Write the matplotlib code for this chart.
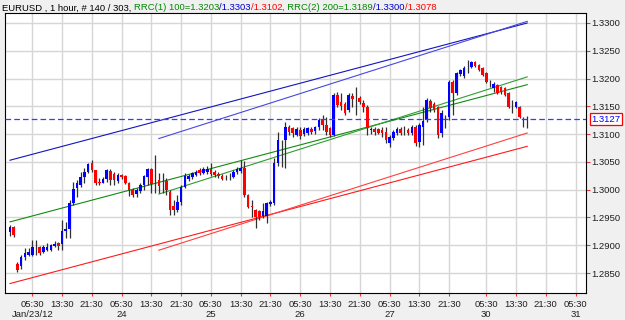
import matplotlib
matplotlib.use('Agg')
import matplotlib.pyplot as plt
import numpy as np
from matplotlib.transforms import blended_transform_factory

plt.rcParams['font.family'] = ['Liberation Sans', 'DejaVu Sans']

# ---------------- data ----------------
opens = [1.2924,1.2933,1.2866,1.2863,1.2879,1.2882,1.2882,1.2895,1.2897,1.2888,
 1.2891,1.2891,1.2899,1.2904,1.2902,1.2926,1.2929,1.2976,1.3003,1.3008,
 1.3023,1.3032,1.3048,1.3035,1.3014,1.3012,1.3019,1.3034,1.3028,1.3016,
 1.3026,1.3025,1.3012,1.2999,1.2992,1.2998,1.3008,1.3023,1.3037,1.3010,
 1.3017,1.3012,1.3016,1.2996,1.2971,1.2963,1.2978,1.3005,1.3019,1.3023,
 1.3026,1.3035,1.3030,1.3032,1.3037,1.3032,1.3028,1.3025,1.3021,1.3023,
 1.3023,1.3032,1.3034,1.3039,1.2990,1.2971,1.2963,1.2962,1.2953,1.2953,
 1.2974,1.2976,1.3048,1.3075,1.3089,1.3113,1.3111,1.3098,1.3107,1.3100,
 1.3102,1.3109,1.3106,1.3113,1.3127,1.3116,1.3111,1.3098,1.3170,1.3158,
 1.3154,1.3143,1.3169,1.3161,1.3165,1.3156,1.3149,1.3107,1.3109,1.3109,
 1.3107,1.3104,1.3084,1.3093,1.3102,1.3109,1.3106,1.3107,1.3102,1.3113,
 1.3086,1.3113,1.3125,1.3160,1.3154,1.3149,1.3102,1.3129,1.3131,1.3194,
 1.3174,1.3208,1.3205,1.3223,1.3221,1.3230,1.3224,1.3219,1.3210,1.3194,
 1.3183,1.3188,1.3185,1.3183,1.3174,1.3158,1.3149,1.3149,1.3131,1.3127]
highs = [1.2936,1.2935,1.2870,1.2882,1.2895,1.2895,1.2909,1.2909,1.2899,1.2900,
 1.2904,1.2902,1.2908,1.2906,1.2945,1.2942,1.2981,1.3014,1.3017,1.3032,
 1.3039,1.3048,1.3053,1.3035,1.3021,1.3023,1.3037,1.3037,1.3032,1.3030,
 1.3028,1.3026,1.3014,1.3003,1.3003,1.3012,1.3026,1.3039,1.3039,1.3062,
 1.3030,1.3030,1.3021,1.2999,1.2981,1.2990,1.3008,1.3030,1.3028,1.3032,
 1.3035,1.3039,1.3041,1.3043,1.3048,1.3035,1.3032,1.3028,1.3026,1.3030,
 1.3035,1.3041,1.3053,1.3052,1.2992,1.2981,1.2965,1.2963,1.2976,1.2978,
 1.2981,1.3057,1.3104,1.3089,1.3122,1.3116,1.3113,1.3113,1.3113,1.3113,
 1.3113,1.3113,1.3115,1.3129,1.3134,1.3131,1.3113,1.3174,1.3176,1.3174,
 1.3158,1.3174,1.3174,1.3185,1.3169,1.3161,1.3152,1.3113,1.3113,1.3111,
 1.3113,1.3113,1.3098,1.3107,1.3113,1.3113,1.3115,1.3111,1.3116,1.3116,
 1.3120,1.3149,1.3165,1.3163,1.3158,1.3151,1.3143,1.3134,1.3197,1.3197,
 1.3212,1.3217,1.3223,1.3233,1.3232,1.3232,1.3226,1.3221,1.3212,1.3197,
 1.3194,1.3190,1.3187,1.3185,1.3176,1.3161,1.3160,1.3151,1.3131,1.3133]
lows = [1.2917,1.2915,1.2852,1.2857,1.2873,1.2881,1.2881,1.2882,1.2882,1.2886,
 1.2890,1.2890,1.2897,1.2891,1.2891,1.2913,1.2913,1.2972,1.2987,1.3005,
 1.3012,1.3030,1.3032,1.3008,1.3008,1.3012,1.3014,1.3008,1.3008,1.3012,
 1.3019,1.3010,1.2989,1.2987,1.2987,1.2994,1.2999,1.3008,1.2994,1.2994,
 1.2994,1.2994,1.2990,1.2954,1.2954,1.2960,1.2972,1.3003,1.3016,1.3019,
 1.3025,1.3026,1.3028,1.3028,1.3025,1.3023,1.3021,1.3017,1.3017,1.3017,
 1.3021,1.3028,1.3030,1.2987,1.2967,1.2951,1.2931,1.2945,1.2949,1.2940,
 1.2971,1.2972,1.3043,1.3041,1.3039,1.3098,1.3095,1.3097,1.3091,1.3097,
 1.3098,1.3100,1.3100,1.3107,1.3107,1.3098,1.3095,1.3097,1.3149,1.3143,
 1.3134,1.3140,1.3149,1.3134,1.3154,1.3140,1.3098,1.3100,1.3098,1.3100,
 1.3095,1.3084,1.3077,1.3089,1.3098,1.3098,1.3098,1.3098,1.3098,1.3079,
 1.3077,1.3080,1.3122,1.3140,1.3140,1.3093,1.3095,1.3111,1.3125,1.3134,
 1.3170,1.3205,1.3201,1.3210,1.3219,1.3221,1.3214,1.3205,1.3192,1.3185,
 1.3176,1.3172,1.3172,1.3169,1.3147,1.3138,1.3147,1.3129,1.3113,1.3111]
closes = [1.2933,1.2918,1.2855,1.2879,1.2886,1.2888,1.2897,1.2895,1.2886,1.2897,
 1.2897,1.2900,1.2902,1.2899,1.2926,1.2929,1.2976,1.3001,1.3012,1.3023,
 1.3032,1.3046,1.3035,1.3012,1.3012,1.3019,1.3035,1.3017,1.3017,1.3026,
 1.3023,1.3012,1.2999,1.2990,1.2999,1.3008,1.3025,1.3037,1.3010,1.3010,
 1.3007,1.3012,1.2999,1.2963,1.2963,1.2978,1.3005,1.3025,1.3025,1.3030,
 1.3032,1.3030,1.3037,1.3037,1.3028,1.3026,1.3025,1.3019,1.3021,1.3023,
 1.3032,1.3037,1.3039,1.2990,1.2969,1.2969,1.2951,1.2951,1.2962,1.2976,
 1.2978,1.3048,1.3089,1.3075,1.3113,1.3104,1.3102,1.3109,1.3097,1.3109,
 1.3111,1.3104,1.3113,1.3125,1.3116,1.3104,1.3098,1.3170,1.3152,1.3151,
 1.3138,1.3170,1.3163,1.3161,1.3158,1.3149,1.3111,1.3109,1.3104,1.3102,
 1.3102,1.3089,1.3095,1.3104,1.3109,1.3102,1.3106,1.3102,1.3113,1.3084,
 1.3116,1.3124,1.3161,1.3147,1.3143,1.3098,1.3138,1.3129,1.3194,1.3174,
 1.3210,1.3215,1.3219,1.3223,1.3230,1.3223,1.3215,1.3206,1.3194,1.3194,
 1.3190,1.3174,1.3176,1.3170,1.3149,1.3158,1.3158,1.3131,1.3131,1.3127]

# regression channels: (first bar, centre at first bar, centre at last bar, upper at last, lower at last)
rrc1 = dict(start=40, c0=1.2992, c1=1.3203, up1=1.3303, lo1=1.3102)
rrc2 = dict(start=0, c0=1.2942, c1=1.3189, up1=1.3300, lo1=1.3078)
last_price = 1.3127

xtick_pos = [6, 14, 22, 30, 38, 46, 54, 62, 70, 78, 86, 94, 102, 110, 118, 128, 136, 144, 152]
xtick_labels = ['05:30', '13:30', '21:30'] * 6 + ['05:30']
date_pos = [6, 30, 54, 78, 102, 128, 152]
date_labels = ['Jan/23/12', '24', '25', '26', '27', '30', '31']
ytick_vals = [1.2850, 1.2900, 1.2950, 1.3000, 1.3050, 1.3100, 1.3150, 1.3200, 1.3250, 1.3300]

# ---------------- figure ----------------
W, H = 625, 320
fig = plt.figure(figsize=(W/100, H/100), dpi=100, facecolor='#f0f0f0')
L, R, T, B = 5, 586, 13, 293
ax = fig.add_axes([L/W, (H-B)/H, (R-L)/W, (B-T)/H])
ax.set_facecolor('white')
ax.set_xlim(-1.34, 154.8)
ax.set_ylim(1.2814, 1.3318)

o = np.array(opens); h = np.array(highs); lo = np.array(lows); c = np.array(closes)
idx = np.arange(len(o))

# grid
for xp in xtick_pos:
    ax.axvline(xp, color='#d6d6d6', lw=1.0, zorder=0)
for yv in ytick_vals:
    ax.axhline(yv, color='#d6d6d6', lw=1.0, zorder=0)

# channels
def channel(d, ccol, ucol, lcol):
    n0 = d['start']; n1 = len(o) - 1
    xs = np.array([n0, n1])
    cen = np.array([d['c0'], d['c1']])
    up_off = d['up1'] - d['c1']
    lo_off = d['c1'] - d['lo1']
    ax.plot(xs, cen, color=ccol, lw=0.8, zorder=2)
    ax.plot(xs, cen + up_off, color=ucol, lw=0.8, zorder=2)
    ax.plot(xs, cen - lo_off, color=lcol, lw=0.8, zorder=2)

channel(rrc2, '#108a10', '#1414c0', '#ff1a1a')
channel(rrc1, '#2e9e2e', '#4848e0', '#ff4040')

# candles
ax.vlines(idx, lo, h, color='#303030', lw=0.9, zorder=3)
up = c > o
dn = c < o
ax.bar(idx[up], (c - o)[up], bottom=o[up], width=0.7, color='#0000ff', lw=0, zorder=4)
ax.bar(idx[dn], (o - c)[dn], bottom=c[dn], width=0.7, color='#ff0000', lw=0, zorder=4)

# last price line
ax.axhline(last_price, color='#3a3aff', lw=0.9, ls=(0, (4.5, 2.5)), zorder=5)

# axes styling
for s in ax.spines.values():
    s.set_color('black'); s.set_linewidth(0.8)
ax.yaxis.tick_right()
ax.set_yticks(ytick_vals)
ax.set_yticklabels([f'{v:.4f}' for v in ytick_vals])
ax.tick_params(axis='y', which='both', right=True, left=False, length=3, width=0.8,
               color='#ff3030', pad=1, labelsize=6.8, labelcolor='#202020')
ax.set_xticks(xtick_pos)
ax.set_xticklabels(xtick_labels)
ax.tick_params(axis='x', length=2.5, width=0.8, color='#ff3030', pad=2.5,
               labelsize=6.8, labelcolor='#202020')

tr = blended_transform_factory(ax.transData, ax.transAxes)
for p, lab in zip(date_pos, date_labels):
    ax.text(p, -0.078, lab, transform=tr, ha='center', va='center', fontsize=6.8, color='#202020')

# price tag
tr2 = blended_transform_factory(ax.transAxes, ax.transData)
ax.text(1.0095, last_price, f'{last_price:.4f}', transform=tr2, ha='left', va='center',
        fontsize=6.8, color='#0000ff',
        bbox=dict(facecolor='white', edgecolor='#ff0000', lw=0.9, pad=1.2), zorder=10, clip_on=False)

# title pieces
pieces = [("EURUSD , 1 hour, # 140 / 303, ", '#000000'),
          ("RRC(1) 100=1.3203", '#008800'),
          ("/1.3303", '#0000cc'),
          ("/1.3102", '#ff0000'),
          (", RRC(2) 200=1.3189", '#008800'),
          ("/1.3300", '#0000cc'),
          ("/1.3078", '#ff0000')]
renderer = fig.canvas.get_renderer()
xpx = 2.0
ybase = (H - 10.5) / H
for txt, col in pieces:
    t = fig.text(xpx / W, ybase, txt, color=col, fontsize=6.8, ha='left', va='baseline')
    ext = t.get_window_extent(renderer=renderer)
    xpx = ext.x1

fig.savefig('out.png', dpi=100, facecolor=fig.get_facecolor())
